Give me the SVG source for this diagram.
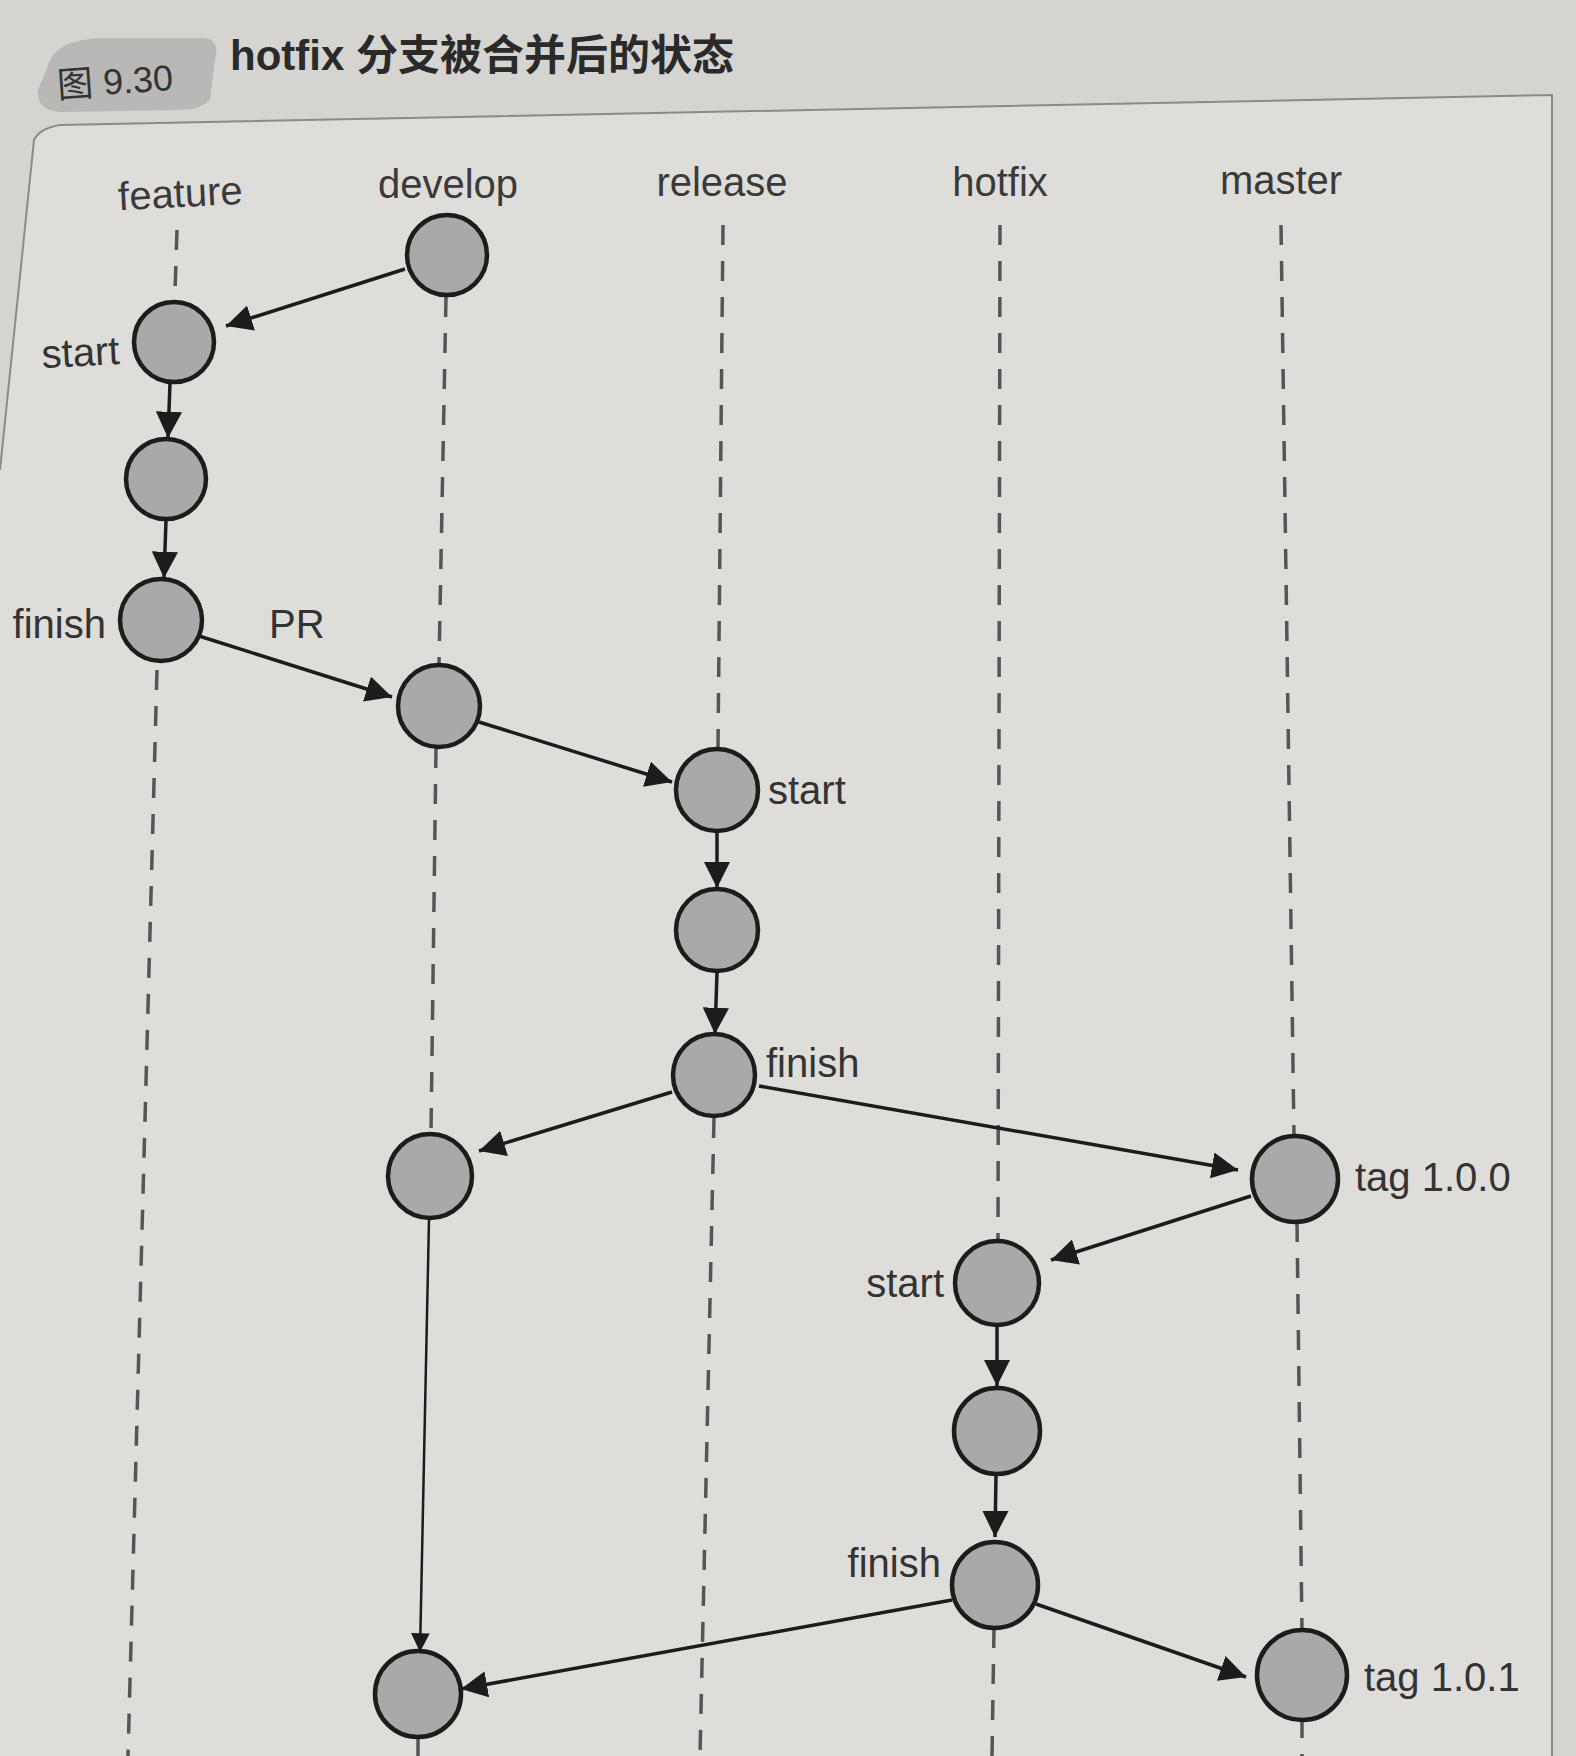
<svg xmlns="http://www.w3.org/2000/svg" width="1576" height="1756" viewBox="0 0 1576 1756">
<defs>
<style>
.bg{fill:#d6d4d0}
.lbl{font-family:"Liberation Sans","Noto Sans CJK SC",sans-serif;fill:#333;font-size:40px}
.hdr{font-family:"Liberation Sans","Noto Sans CJK SC",sans-serif;fill:#3a3a3a;font-size:40px;text-anchor:middle}
.node{fill:#a9a9a9;stroke:#1c1c1c;stroke-width:4.5}
.dash{stroke:#555;stroke-width:3.5;stroke-dasharray:20 16;fill:none}
.edge{stroke:#1c1c1c;stroke-width:3.5;fill:none;marker-end:url(#ah)}
.thin{stroke:#1c1c1c;stroke-width:2.5;fill:none;marker-end:url(#ah)}
</style>
<marker id="ah" viewBox="0 0 10 10" refX="10" refY="5" markerWidth="7.5" markerHeight="7.5" markerUnits="strokeWidth" orient="auto"><path d="M0,0 L10,5 L0,10 Z" fill="#1c1c1c"/></marker>
</defs>
<rect class="bg" x="0" y="0" width="1576" height="1756"/>
<path d="M34,140 Q40,128 60,125 L1552,95 L1552,1756 L0,1756 L0,470 Z" fill="#dfddda"/>
<path d="M0,470 L34,140 Q40,128 60,125 L1552,95 L1552,1756" fill="none" stroke="#8a8a8a" stroke-width="2"/>
<g id="title">
<path d="M50,60 Q60,40 100,38 L205,38 Q220,40 215,60 L210,100 Q200,110 180,110 L60,112 Q36,110 38,90 Z" fill="#b9b8b6"/>
<text x="58" y="98" class="lbl" style="font-size:36px" transform="rotate(-4 58 98)">图 9.30</text>
<text x="230" y="70" class="lbl" style="font-size:42px;fill:#2a2a2a;font-weight:bold">hotfix 分支被合并后的状态</text>
</g>
<g id="headers">
<text class="hdr" x="181" y="207" transform="rotate(-3 181 207)">feature</text>
<text class="hdr" x="448" y="198">develop</text>
<text class="hdr" x="722" y="196">release</text>
<text class="hdr" x="1000" y="196">hotfix</text>
<text class="hdr" x="1281" y="194">master</text>
</g>
<g id="lanes">
<path class="dash" d="M177,230 L175,292"/>
<path class="dash" d="M157,670 L128,1756"/>
<path class="dash" d="M446,297 L439,664"/>
<path class="dash" d="M436,748 L431,1133"/>
<path class="dash" d="M418,1737 L418,1756"/>
<path class="dash" d="M723,225 L718,748"/>
<path class="dash" d="M714,1118 L700,1756"/>
<path class="dash" d="M1000,225 L998,1240"/>
<path class="dash" d="M994,1628 L992,1756"/>
<path class="dash" d="M1281,225 L1294,1136"/>
<path class="dash" d="M1297,1222 L1302,1632"/>
<path class="dash" d="M1302,1718 L1302,1756"/>
</g>
<g id="connectors">
<line class="edge" x1="405" y1="269" x2="226" y2="326"/>
<line class="edge" x1="170" y1="383" x2="168" y2="438"/>
<line class="edge" x1="166" y1="520" x2="164" y2="578"/>
<line class="edge" x1="199" y1="636" x2="392" y2="697"/>
<line class="edge" x1="479" y1="722" x2="672" y2="782"/>
<line class="edge" x1="717" y1="831" x2="717" y2="888"/>
<line class="edge" x1="717" y1="972" x2="715" y2="1034"/>
<line class="edge" x1="672" y1="1092" x2="479" y2="1151"/>
<line class="edge" x1="759" y1="1086" x2="1238" y2="1170"/>
<line class="edge" x1="1251" y1="1196" x2="1051" y2="1260"/>
<line class="edge" x1="997" y1="1325" x2="997" y2="1386"/>
<line class="edge" x1="996" y1="1475" x2="995" y2="1537"/>
<line class="thin" x1="429" y1="1219" x2="420" y2="1652"/>
<line class="edge" x1="952" y1="1600" x2="461" y2="1689"/>
<line class="edge" x1="1036" y1="1604" x2="1246" y2="1677"/>
</g>
<g id="n-dev1"><circle class="node" cx="447" cy="255" r="40"/></g>
<g id="n-feat-start"><circle class="node" cx="174" cy="342" r="40"/><text class="lbl" x="120" y="364" text-anchor="end" transform="rotate(-3 120 364)">start</text></g>
<g id="n-feat-mid"><circle class="node" cx="166" cy="479" r="40"/></g>
<g id="n-feat-finish"><circle class="node" cx="161" cy="620" r="41"/><text class="lbl" x="106" y="638" text-anchor="end">finish</text><text class="lbl" x="269" y="638">PR</text></g>
<g id="n-dev2"><circle class="node" cx="439" cy="706" r="41"/></g>
<g id="n-rel-start"><circle class="node" cx="717" cy="790" r="41"/><text class="lbl" x="768" y="804">start</text></g>
<g id="n-rel-mid"><circle class="node" cx="717" cy="930" r="41"/></g>
<g id="n-rel-finish"><circle class="node" cx="714" cy="1075" r="41"/><text class="lbl" x="766" y="1077">finish</text></g>
<g id="n-dev3"><circle class="node" cx="430" cy="1176" r="42"/></g>
<g id="n-tag100"><circle class="node" cx="1295" cy="1179" r="43"/><text class="lbl" x="1355" y="1191">tag 1.0.0</text></g>
<g id="n-hot-start"><circle class="node" cx="997" cy="1283" r="42"/><text class="lbl" x="944" y="1297" text-anchor="end">start</text></g>
<g id="n-hot-mid"><circle class="node" cx="997" cy="1431" r="43"/></g>
<g id="n-hot-finish"><circle class="node" cx="995" cy="1585" r="43"/><text class="lbl" x="941" y="1577" text-anchor="end">finish</text></g>
<g id="n-dev4"><circle class="node" cx="418" cy="1694" r="43"/></g>
<g id="n-tag101"><circle class="node" cx="1302" cy="1675" r="45"/><text class="lbl" x="1364" y="1691">tag 1.0.1</text></g>
</svg>
